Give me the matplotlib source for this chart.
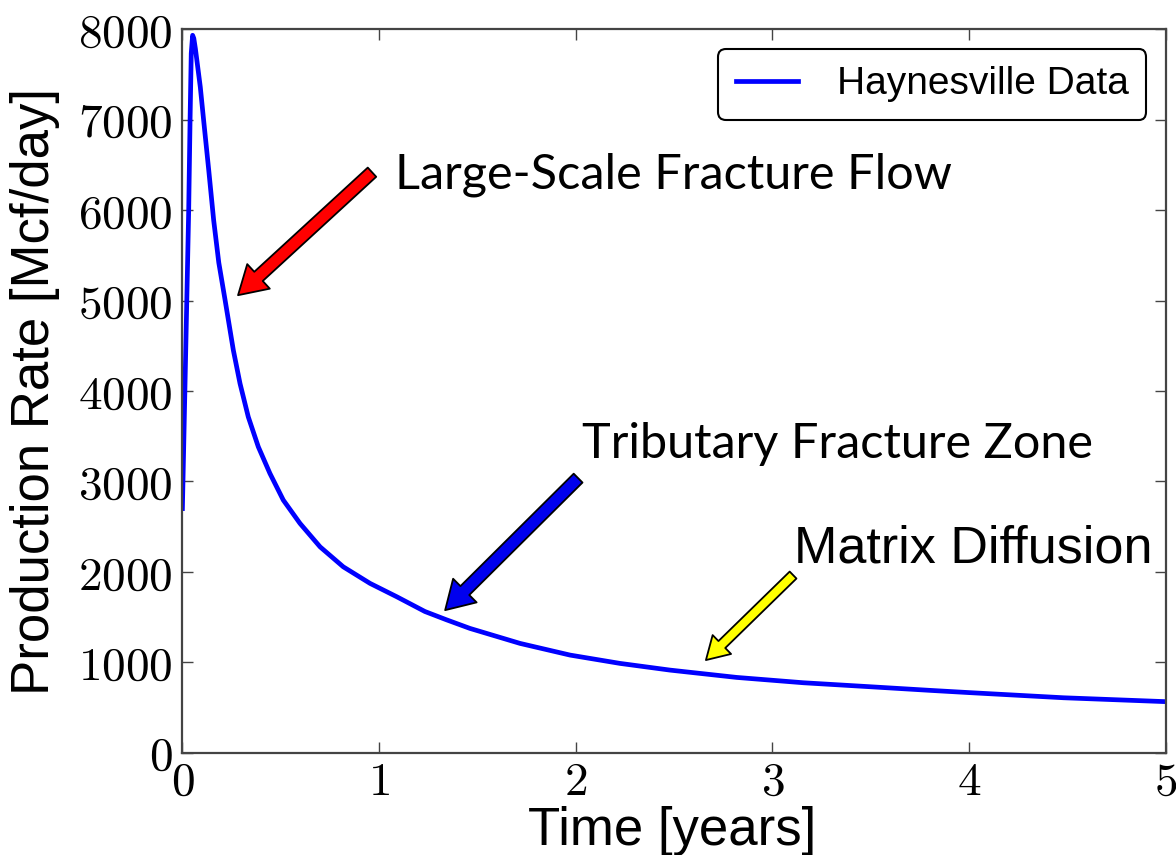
import matplotlib
matplotlib.use('Agg')
import matplotlib.pyplot as plt

plt.rcParams['mathtext.fontset'] = 'cm'

# well production history (years, Mcf/day)
t_years = [0, 0.016, 0.032, 0.039, 0.045, 0.052, 0.058, 0.066, 0.091, 0.108, 0.134,
           0.159, 0.185, 0.216, 0.259, 0.293, 0.335, 0.386, 0.445, 0.513, 0.598,
           0.700, 0.818, 0.954, 1.090, 1.233, 1.343, 1.462, 1.717, 1.971, 2.225,
           2.479, 2.818, 3.157, 3.496, 3.8, 4.0, 4.48, 5.0]
rate = [2700, 4350, 6000, 7000, 7735, 7934, 7900, 7787, 7362, 6994, 6441,
        5889, 5420, 5020, 4452, 4083, 3714, 3383, 3089, 2794, 2536,
        2277, 2056, 1873, 1725, 1562, 1470, 1375, 1209, 1080, 988,
        914, 833, 774, 730, 690, 665, 608, 565]

xticks = [0, 1, 2, 3, 4, 5]
yticks = [0, 1000, 2000, 3000, 4000, 5000, 6000, 7000, 8000]

# flow regime callouts: text, text pos, arrow tail, arrow tip, colour
regimes = [
    ('Large-Scale Fracture Flow', (1.08, 6390), (0.964, 6420), (0.283, 5060), '#ff0000'),
    ('Tributary Fracture Zone', (2.03, 3410), (2.012, 3037), (1.336, 1577), '#0000ee'),
    ('Matrix Diffusion', (3.11, 2250), (3.105, 1965), (2.662, 1025), '#ffff00'),
]

fig = plt.figure(figsize=(11.76, 8.55), dpi=100)
ax = fig.add_axes([0.1551, 0.1196, 0.8362, 0.8461])

ax.plot(t_years, rate, color='#0000ff', lw=3.4, label='Haynesville Data')
ax.set_xlim(0, 5)
ax.set_ylim(0, 8000)

ax.set_xticks(xticks)
ax.set_xticklabels([r'$%d$' % v for v in xticks])
ax.set_yticks(yticks)
ax.set_yticklabels([r'$%d$' % v for v in yticks])
ax.tick_params(direction='in', length=8, width=1, color='#444444', labelsize=34,
               top=True, right=True)
ax.tick_params(axis='x', pad=5)
ax.tick_params(axis='y', pad=7)
for s in ax.spines.values():
    s.set_color('#444444')
    s.set_linewidth(1.6)

ax.set_xlabel('Time [years]', family='Liberation Sans', fontsize=38, va='center')
ax.xaxis.set_label_coords(0.498, -0.108)
ax.set_ylabel('Production Rate [Mcf/day]', family='Liberation Sans', fontsize=38,
              va='center')
ax.yaxis.set_label_coords(-0.150, 0.5)

fonts = ['Lato', 'Lato', 'Liberation Sans']
sizes = [35, 35, 37.5]
for (txt, tpos, tail, tip, col), fam, fs in zip(regimes, fonts, sizes):
    thin = col == '#ffff00'
    ax.annotate('', xy=tip, xytext=tail,
                arrowprops=dict(facecolor=col, edgecolor='black', lw=1.3,
                                width=7 if thin else 9,
                                headwidth=19 if thin else 24,
                                headlength=16 if thin else 20,
                                shrink=0))
    ax.text(tpos[0], tpos[1], txt, family=fam, fontsize=fs, va='center', ha='left')

leg = ax.legend(loc='upper right', prop={'family': 'Liberation Sans', 'size': 28},
                fancybox=True, framealpha=1, edgecolor='black', borderpad=0.45,
                handlelength=1.6, handletextpad=1.0, borderaxespad=0.5)
leg.get_frame().set_linewidth(1.5)

fig.savefig('out.png', dpi=100)
